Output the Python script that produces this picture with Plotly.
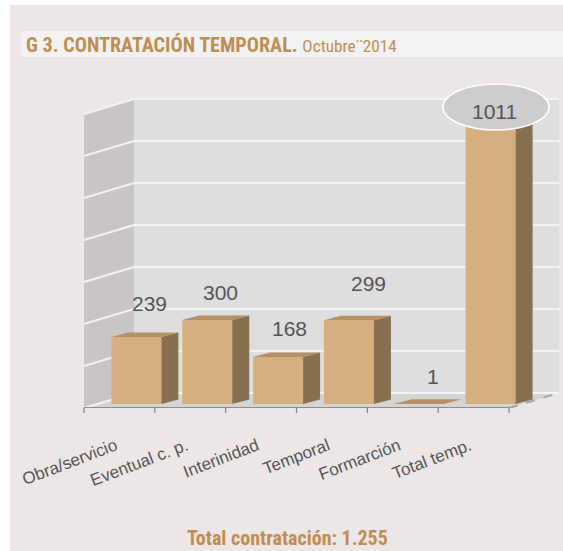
import plotly.graph_objects as go

categories = ["Obra/servicio", "Eventual c. p.", "Interinidad", "Temporal", "Formarción", "Total temp."]
values = [239, 300, 168, 299, 1, 1011]
grid_values = [0, 150, 300, 450, 600, 750, 900, 1050]
title_bold = "G 3. CONTRATACIÓN TEMPORAL."
title_light = "Octubre¨2014"
footer = "Total contratación: 1.255"

W, H = 563, 551
FLOOR_PX = 404       # pixel row of value 0 on the bar front
AXIS_PX = 408
PX_PER_UNIT = 0.28
BAR_W = 50
DX, DY = 17, 4.5     # bar depth
WX, WY = 50, 15      # wall depth
LEFT, RIGHT = 84, 509

def v_of(px):
    return (FLOOR_PX - px) / PX_PER_UNIT

def dv(px):
    return px / PX_PER_UNIT

step = (RIGHT - LEFT) / 6
centers = [LEFT + step * (i + 0.5) + 17 for i in range(6)]

fig = go.Figure()

fig.add_trace(go.Bar(x=centers, y=values, width=BAR_W, marker=dict(color="#D5AF80", line_width=0),
                     hoverinfo="skip", showlegend=False))

side_x, side_y, top_x, top_y = [], [], [], []
for c, v in zip(centers, values):
    r, l = c + BAR_W / 2, c - BAR_W / 2
    side_x += [r, r + DX, r + DX, r, r, None]
    side_y += [0, dv(DY), v + dv(DY), v, 0, None]
    top_x += [l, l + DX, r + DX, r, l, None]
    top_y += [v, v + dv(DY), v + dv(DY), v, v, None]
fig.add_trace(go.Scatter(x=side_x, y=side_y, mode="lines", fill="toself", fillcolor="#87704F",
                         line=dict(width=0), hoverinfo="skip", showlegend=False))
fig.add_trace(go.Scatter(x=top_x, y=top_y, mode="lines", fill="toself", fillcolor="#B39068",
                         line=dict(width=0), hoverinfo="skip", showlegend=False))

def poly(pts):
    return "M " + " L ".join(f"{x},{y}" for x, y in pts) + " Z"

back = dv(WY - 4)
front = -dv(4)
shapes = [
    dict(type="rect", xref="paper", yref="paper", x0=10 / W, x1=1, y0=1 - 551 / AXIS_PX, y1=1 - 5 / AXIS_PX,
         fillcolor="#ECE6E6", line_width=0, layer="below"),
    dict(type="rect", xref="paper", yref="paper", x0=21 / W, x1=1, y0=1 - 57 / AXIS_PX, y1=1 - 31 / AXIS_PX,
         fillcolor="#F3F2F2", line_width=0, layer="below"),
    dict(type="path", layer="below", line_width=0, fillcolor="#C9C5C5",
         path=poly([(LEFT, front), (LEFT + WX, back), (LEFT + WX, 1050 + back), (LEFT, 1050 + front)])),
    dict(type="path", layer="below", line_width=0, fillcolor="#DEDEDE",
         path=poly([(LEFT + WX, back), (RIGHT + WX, back), (RIGHT + WX, 1050 + back), (LEFT + WX, 1050 + back)])),
    dict(type="path", layer="below", line_width=0, fillcolor="#D6D3D3",
         path=poly([(LEFT, front), (RIGHT, front), (RIGHT + WX, back), (LEFT + WX, back)])),
]
for g in grid_values:
    shapes.append(dict(type="path", layer="below", line=dict(color="#F4F2F2", width=2),
                       path=f"M {LEFT},{g + front} L {LEFT + WX},{g + back} L {RIGHT + WX},{g + back}"))
shapes.append(dict(type="line", layer="below", x0=RIGHT, x1=RIGHT + WX, y0=front, y1=back,
                   line=dict(color="#A5A3A3", width=2, dash="dash")))
shapes.append(dict(type="line", x0=LEFT, x1=RIGHT, y0=front, y1=front, line=dict(color="#8E8E8E", width=2)))
for i in range(7):
    x = LEFT + step * i
    shapes.append(dict(type="line", xref="x", yref="paper", x0=x, x1=x, y0=0, y1=-5 / AXIS_PX,
                       line=dict(color="#808080", width=1.2)))
shapes.append(dict(type="circle", x0=443, x1=549, y0=v_of(130), y1=v_of(84),
                   fillcolor="#CDCDCD", line=dict(color="white", width=1.6)))

label_dx = [13, 13, 11, 20, 13, 4]
label_dy = [34, 28, 28, 37, 27, 9]
annotations = []
for c, v, dx, dy in zip(centers, values, label_dx, label_dy):
    annotations.append(dict(x=c, y=v, xref="x", yref="y", text=str(v), showarrow=False,
                            xshift=dx, yshift=dy,
                            font=dict(family="Liberation Sans", size=21, color="#555555")))
annotations.append(dict(xref="paper", yref="paper", x=24 / W, y=1 - 45 / AXIS_PX, xanchor="left", yanchor="middle",
                        showarrow=False,
                        text=f"<b>{title_bold}</b> <span style='font-size:17.2px'>{title_light}</span>",
                        font=dict(family="Roboto Condensed, Roboto", size=20.2, color="#C08E52")))
annotations.append(dict(xref="paper", yref="paper", x=287 / W, y=1 - 538 / AXIS_PX, xanchor="center", yanchor="middle",
                        showarrow=False, text=f"<b>{footer}</b>",
                        font=dict(family="Roboto Condensed, Roboto", size=20, color="#C08E52")))

fig.update_layout(
    width=W, height=H, margin=dict(l=0, r=0, t=0, b=H - AXIS_PX),
    paper_bgcolor="white", plot_bgcolor="rgba(0,0,0,0)", showlegend=False,
    xaxis=dict(range=[0, W], tickmode="array", tickvals=[c - 21 for c in centers], ticktext=categories,
               tickangle=-21, showgrid=False, zeroline=False, showline=False, ticks="", ticklabelstandoff=24,
               tickfont=dict(family="Liberation Sans", size=17, color="#555555")),
    yaxis=dict(range=[v_of(AXIS_PX), v_of(0)], showgrid=False, zeroline=False, showticklabels=False, ticks=""),
    shapes=shapes, annotations=annotations,
)
fig.write_html("out.html", config={"displayModeBar": False},
               post_script="document.body.style.margin='0';document.documentElement.style.overflow='hidden';")
